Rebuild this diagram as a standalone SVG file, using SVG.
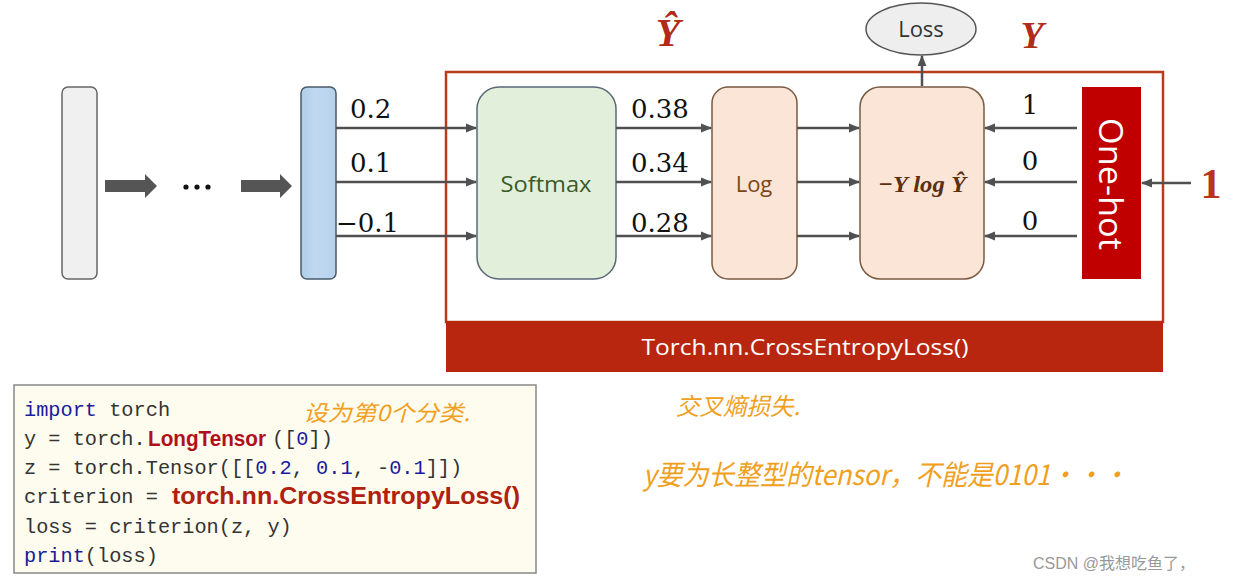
<svg xmlns="http://www.w3.org/2000/svg" width="1233" height="582" viewBox="0 0 1233 582">
<defs>
<style>
.num{font-family:"DejaVu Serif","Liberation Serif",serif;font-size:26px;fill:#111}
.code{font-family:"Liberation Mono","DejaVu Sans Mono",monospace;font-size:20.3px;fill:#333}
.kw{fill:#1a1a9a}
.cn{fill:#1a1aa0}
.red{font-family:"Liberation Sans",Arial,sans-serif;font-weight:bold;fill:#b0101c}
.hand{font-family:"Noto Sans CJK SC",sans-serif;fill:#f0a020;font-style:italic}
.conn{stroke:#505050;stroke-width:2.5;fill:none}
</style>
<marker id="ah" viewBox="0 0 10 10" refX="9" refY="5" markerWidth="4.5" markerHeight="4.5" orient="auto-start-reverse" markerUnits="strokeWidth">
<path d="M0,1 L10,5 L0,9 Z" fill="#505050"/>
</marker>
<linearGradient id="bl" x1="0" x2="1" y1="0" y2="0"><stop offset="0" stop-color="#aecde8"/><stop offset="0.4" stop-color="#c0d9ef"/><stop offset="1" stop-color="#b5d2ec"/></linearGradient>
</defs>
<rect width="1233" height="582" fill="#ffffff"/>

<g id="frame">
<rect x="446" y="72" width="717" height="250" fill="none" stroke="#b83c1c" stroke-width="2.5"/>
<rect x="446" y="321" width="717" height="51" fill="#b8260f"/>
<text x="805" y="355" text-anchor="middle" font-family="'Open Sans','Liberation Sans',sans-serif" font-size="22" fill="#ffffff" textLength="327" lengthAdjust="spacingAndGlyphs">Torch.nn.CrossEntropyLoss()</text>
</g>

<g id="input-layer">
<rect x="62" y="87" width="35" height="192" rx="6" fill="#f0f0f0" stroke="#666" stroke-width="1.5"/>
</g>
<g id="big-arrows">
<path d="M105,180 H145 V174 L157,186 L145,198 V192 H105 Z" fill="#555"/>
<circle cx="186" cy="187" r="2.6" fill="#111"/><circle cx="197" cy="187" r="2.6" fill="#111"/><circle cx="208" cy="187" r="2.6" fill="#111"/>
<path d="M241,180 H280 V174 L292,186 L280,198 V192 H241 Z" fill="#555"/>
</g>
<g id="output-layer">
<rect x="301" y="87" width="35" height="192" rx="6" fill="url(#bl)" stroke="#4a5a6a" stroke-width="1.5"/>
</g>

<g id="softmax">
<rect x="477" y="87" width="139" height="192" rx="22" fill="#e2efda" stroke="#5a6878" stroke-width="1.5"/>
<text x="546" y="192" text-anchor="middle" font-family="'Open Sans','Liberation Sans',sans-serif" font-size="22" fill="#3b5a2a" textLength="91" lengthAdjust="spacingAndGlyphs">Softmax</text>
</g>
<g id="log">
<rect x="712" y="87" width="85" height="192" rx="16" fill="#fbe5d6" stroke="#7a5a42" stroke-width="1.5"/>
<text x="754" y="192" text-anchor="middle" font-family="'Open Sans','Liberation Sans',sans-serif" font-size="22" fill="#7a4518">Log</text>
</g>
<g id="ylogy">
<rect x="860" y="87" width="124" height="192" rx="20" fill="#fbe5d6" stroke="#7a5a42" stroke-width="1.5"/>
<text x="922" y="192" text-anchor="middle" font-family="'Liberation Serif',serif" font-size="24" font-weight="bold" font-style="italic" fill="#5a3012" textLength="88" lengthAdjust="spacingAndGlyphs">−Y log Ŷ</text>
</g>
<g id="onehot">
<rect x="1082" y="87" width="59" height="192" fill="#c00000"/>
<text transform="translate(1099,184) rotate(90)" text-anchor="middle" font-family="'Open Sans','Liberation Sans',sans-serif" font-size="32" fill="#ffffff" textLength="132" lengthAdjust="spacingAndGlyphs">One-hot</text>
</g>
<g id="loss">
<ellipse cx="921" cy="29" rx="55" ry="26" fill="#eeeeee" stroke="#555" stroke-width="1.5"/>
<text x="921" y="37" text-anchor="middle" font-family="'Open Sans','Liberation Sans',sans-serif" font-size="22" fill="#333">Loss</text>
</g>

<g id="labels">
<text x="668" y="46" text-anchor="middle" font-family="'Liberation Serif',serif" font-size="40" font-weight="bold" font-style="italic" fill="#b22a1a">Ŷ</text>
<text x="1032" y="48" text-anchor="middle" font-family="'Liberation Serif',serif" font-size="38" font-weight="bold" font-style="italic" fill="#b22a1a">Y</text>
<text class="num" x="350" y="118">0.2</text>
<text class="num" x="350" y="172">0.1</text>
<text class="num" x="336" y="232">−0.1</text>
<text class="num" x="631" y="118">0.38</text>
<text class="num" x="631" y="172">0.34</text>
<text class="num" x="631" y="232">0.28</text>
<text class="num" x="1030" y="114" text-anchor="middle">1</text>
<text class="num" x="1030" y="170" text-anchor="middle">0</text>
<text class="num" x="1030" y="230" text-anchor="middle">0</text>
<text x="1211" y="198" text-anchor="middle" font-family="'Liberation Serif',serif" font-size="42" font-weight="bold" fill="#b8341c">1</text>
</g>

<g id="connectors">
<line class="conn" x1="336" y1="128" x2="476" y2="128" marker-end="url(#ah)"/>
<line class="conn" x1="336" y1="182" x2="476" y2="182" marker-end="url(#ah)"/>
<line class="conn" x1="336" y1="236" x2="476" y2="236" marker-end="url(#ah)"/>
<line class="conn" x1="616" y1="128" x2="711" y2="128" marker-end="url(#ah)"/>
<line class="conn" x1="616" y1="182" x2="711" y2="182" marker-end="url(#ah)"/>
<line class="conn" x1="616" y1="236" x2="711" y2="236" marker-end="url(#ah)"/>
<line class="conn" x1="797" y1="128" x2="859" y2="128" marker-end="url(#ah)"/>
<line class="conn" x1="797" y1="182" x2="859" y2="182" marker-end="url(#ah)"/>
<line class="conn" x1="797" y1="236" x2="859" y2="236" marker-end="url(#ah)"/>
<line class="conn" x1="1077" y1="128" x2="985" y2="128" marker-end="url(#ah)"/>
<line class="conn" x1="1077" y1="182" x2="985" y2="182" marker-end="url(#ah)"/>
<line class="conn" x1="1077" y1="236" x2="985" y2="236" marker-end="url(#ah)"/>
<line class="conn" x1="1191" y1="183" x2="1142" y2="183" marker-end="url(#ah)"/>
<line class="conn" x1="922" y1="86" x2="922" y2="56" marker-end="url(#ah)"/>
</g>

<g id="code">
<rect x="14" y="385" width="522" height="188" fill="#fefcee" stroke="#888" stroke-width="1.5"/>
<text class="code" x="24" y="416"><tspan class="kw">import</tspan> torch</text>
<text class="code" x="24" y="445">y = torch.</text>
<text class="red" x="148" y="446" font-size="22" textLength="118" lengthAdjust="spacingAndGlyphs">LongTensor</text>
<text class="code" x="272" y="445">([<tspan class="cn">0</tspan>])</text>
<text class="code" x="24" y="474">z = torch.Tensor([[<tspan class="cn">0.2</tspan>, <tspan class="cn">0.1</tspan>, -<tspan class="cn">0.1</tspan>]])</text>
<text class="code" x="24" y="503">criterion = </text>
<text class="red" x="172" y="504" font-size="23" style="fill:#b0200e" textLength="348" lengthAdjust="spacingAndGlyphs">torch.nn.CrossEntropyLoss()</text>
<text class="code" x="24" y="533">loss = criterion(z, y)</text>
<text class="code" x="24" y="562"><tspan class="kw">print</tspan>(loss)</text>
</g>

<g id="notes">
<text class="hand" x="303" y="421" font-size="22" textLength="167" lengthAdjust="spacingAndGlyphs">设为第0个分类.</text>
<text class="hand" x="676" y="415" font-size="24" textLength="124" lengthAdjust="spacingAndGlyphs">交叉熵损失.</text>
<text class="hand" x="643" y="485" font-size="28" textLength="485" lengthAdjust="spacingAndGlyphs">y要为长整型的tensor，不能是0101···</text>
<text x="1033" y="569" font-family="'Liberation Sans','Noto Sans CJK SC',sans-serif" font-size="16" fill="#999">CSDN @我想吃鱼了，</text>
</g>
</svg>
